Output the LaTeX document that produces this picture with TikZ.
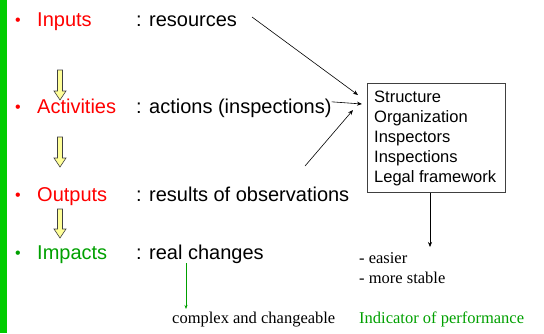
\documentclass[tikz,border=0pt]{standalone}
\usepackage{fontspec}
\setmainfont{Liberation Serif}
\newfontfamily\arial{Liberation Sans}
\usetikzlibrary{arrows.meta}
\definecolor{vertbarre}{RGB}{0,204,0}
\definecolor{vert}{RGB}{0,160,0}
\definecolor{jaune}{RGB}{255,255,153}
\begin{document}
\begin{tikzpicture}[x=1pt,y=-1pt]
		\tikzstyle{titre}=[anchor=base west, inner sep=0pt, font=\arial\fontsize{20}{24}\selectfont]
		\tikzstyle{puce}=[anchor=base west, inner sep=0pt, font=\arial\fontsize{16}{20}\selectfont]
		\tikzstyle{texte}=[anchor=base west, inner sep=0pt, font=\fontsize{16.5}{20}\selectfont]
		\tikzstyle{fleche}=[draw=black!75, fill=jaune, line width=0.6pt]
		\tikzstyle{lien}=[draw, line width=0.6pt, -{Stealth[length=5pt,width=4pt]}]
		\useasboundingbox (0,0) rectangle (544,333);
		\fill[vertbarre] (0,0) rectangle (7,333); % barre verte
		% colonne de gauche
		\node[puce, red] (p1) at (15,25) {•};
		\node[titre, red] (inputs) at (37,26) {Inputs};
		\node[titre] (res) at (136,26) {: resources};
		\node[puce, red] (p2) at (15,112) {•};
		\node[titre, red] (activities) at (37,113) {Activities};
		\node[titre] (actions) at (136,113) {: actions (inspections)};
		\node[puce, red] (p3) at (15,200) {•};
		\node[titre, red] (outputs) at (37,201) {Outputs};
		\node[titre] (results) at (136,201) {: results of observations};
		\node[puce, vert] (p4) at (15,258) {•};
		\node[titre, vert] (impacts) at (37,259) {Impacts};
		\node[titre] (changes) at (136,259) {: real changes};
		% fleches jaunes
		\draw[fleche] (57.5,70) -- (62.5,70) -- (62.5,91) -- (66,91) -- (60,100) -- (54,91) -- (57.5,91) -- cycle;
		\draw[fleche] (57.5,137) -- (62.5,137) -- (62.5,158) -- (66,158) -- (60,167) -- (54,158) -- (57.5,158) -- cycle;
		\draw[fleche] (57.5,209) -- (62.5,209) -- (62.5,229) -- (66,229) -- (60,238) -- (54,229) -- (57.5,229) -- cycle;
		% cadre de droite
		\node[draw=black!75, line width=0.8pt, anchor=north west, minimum width=138pt, minimum height=109pt] (cadre) at (367,83) {};
		\node[anchor=north west, inner sep=0pt, align=left, font=\arial\fontsize{16.5}{20}\selectfont] (liste) at (374,91)
			{Structure\\Organization\\Inspectors\\Inspections\\Legal framework};
		\coordinate (a1) at (252,17);
		\coordinate (f1) at (358,95);
		\coordinate (f2) at (362,104);
		\coordinate (a3) at (305,166);
		\coordinate (f3) at (353,110);
		\draw[lien] (a1) -- (f1);
		\draw[lien] (actions.east) ++(0,-6) coordinate (a2) -- (f2);
		\draw[lien] (a3) -- (f3);
		\coordinate (f4) at (430,247);
		\draw[lien] (cadre.south -| f4) -- (f4);
		% textes du bas
		\node[texte] (easier) at (359,263) {- easier};
		\node[texte] (stable) at (359,283) {- more stable};
		\node[texte] (complex) at (172,323) {complex and changeable};
		\node[texte, vert] (indic) at (359,323) {Indicator of performance};
		\coordinate (f5) at (186,309);
		\draw[vert, line width=0.6pt, -{Stealth[length=4pt,width=3pt]}] (changes.south -| f5) -- (f5);
	\end{tikzpicture}
\end{document}
